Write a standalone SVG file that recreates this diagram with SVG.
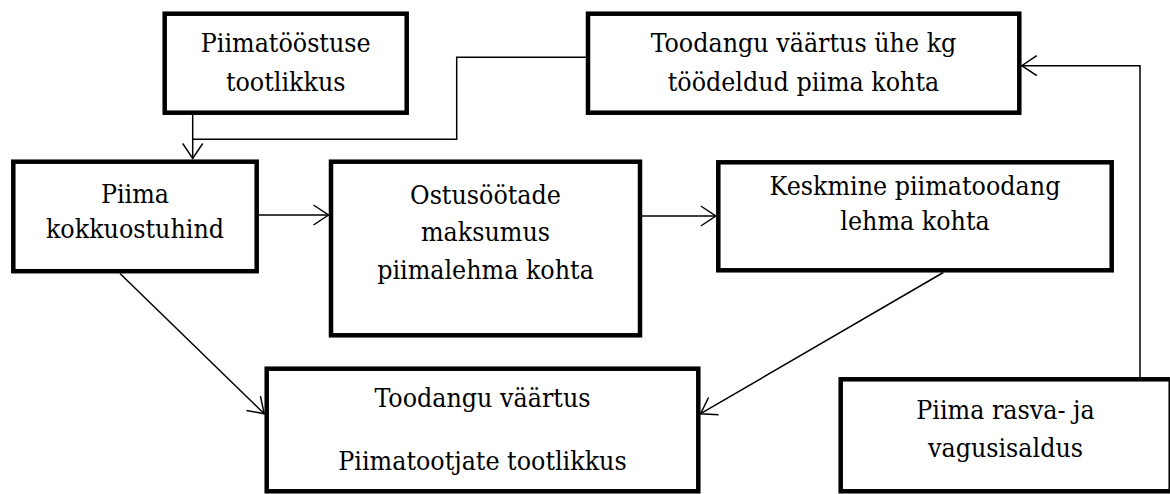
<svg xmlns="http://www.w3.org/2000/svg" width="1170" height="494" viewBox="0 0 1170 494">
  <defs>
    <style>
      .box { fill: #fff; stroke: #000; stroke-width: 4.5; }
      .lbl { font-family: 'DejaVu Serif Condensed', 'DejaVu Serif', serif; font-stretch: condensed; font-size: 26.5px; fill: #000; text-anchor: middle; }
      .link { fill: none; stroke: #000; stroke-width: 1.5; }
    </style>
    <!-- open V arrowhead -->
    <marker id="open" viewBox="-17 -12 19 24" refX="0" refY="0" markerWidth="19" markerHeight="24" markerUnits="userSpaceOnUse" orient="auto">
      <path d="M-15,-10 L0,0 L-15,10" fill="none" stroke="#000" stroke-width="1.5"/>
    </marker>
  </defs>

  <rect width="1170" height="494" fill="#fff"/>

  <g id="connectors">
    <!-- merge from the top-right box into the vertical feed -->
    <path class="link" d="M586,57.3 H456.7 V139.3 H192.7"/>
    <path class="link" d="M192.7,115 V158.5" marker-end="url(#open)"/>
    <path class="link" d="M259,215 H328.5" marker-end="url(#open)"/>
    <path class="link" d="M642,216 H715.8" marker-end="url(#open)"/>
    <path class="link" d="M120,273.5 L264.2,413.7" marker-end="url(#open)"/>
    <path class="link" d="M943.3,272.5 L700.6,413.7" marker-end="url(#open)"/>
    <path class="link" d="M1140,377 V65.7 H1021.8" marker-end="url(#open)"/>
  </g>

  <g id="piimatoostuse-tootlikkus">
    <rect class="box" x="164.7" y="13.7" width="242" height="99"/>
    <text class="lbl" x="285.7" y="52">Piimatööstuse</text>
    <text class="lbl" x="285.7" y="90.5">tootlikkus</text>
  </g>

  <g id="toodangu-vaartus-kg">
    <rect class="box" x="588" y="13.7" width="431.3" height="99"/>
    <text class="lbl" x="803.5" y="52">Toodangu väärtus ühe kg</text>
    <text class="lbl" x="803.5" y="90.5">töödeldud piima kohta</text>
  </g>

  <g id="piima-kokkuostuhind">
    <rect class="box" x="13.3" y="161.7" width="243.4" height="109.5"/>
    <text class="lbl" x="135" y="202.5">Piima</text>
    <text class="lbl" x="135" y="237.5">kokkuostuhind</text>
  </g>

  <g id="ostusootade-maksumus">
    <rect class="box" x="331" y="161.7" width="309" height="173.6"/>
    <text class="lbl" x="485.5" y="203.5">Ostusöötade</text>
    <text class="lbl" x="485.5" y="240.5">maksumus</text>
    <text class="lbl" x="485.5" y="279">piimalehma kohta</text>
  </g>

  <g id="keskmine-piimatoodang">
    <rect class="box" x="718.3" y="162.3" width="393.4" height="108"/>
    <text class="lbl" x="915" y="195">Keskmine piimatoodang</text>
    <text class="lbl" x="915" y="230">lehma kohta</text>
  </g>

  <g id="toodangu-vaartus">
    <rect class="box" x="266.7" y="368.7" width="431.6" height="122.6"/>
    <text class="lbl" x="482.5" y="407">Toodangu väärtus</text>
    <text class="lbl" x="482.5" y="470">Piimatootjate tootlikkus</text>
  </g>

  <g id="rasva-vagusisaldus">
    <rect class="box" x="840.7" y="379.3" width="330" height="112"/>
    <text class="lbl" x="1005.5" y="418.5">Piima rasva- ja</text>
    <text class="lbl" x="1005.5" y="457">vagusisaldus</text>
  </g>
</svg>
